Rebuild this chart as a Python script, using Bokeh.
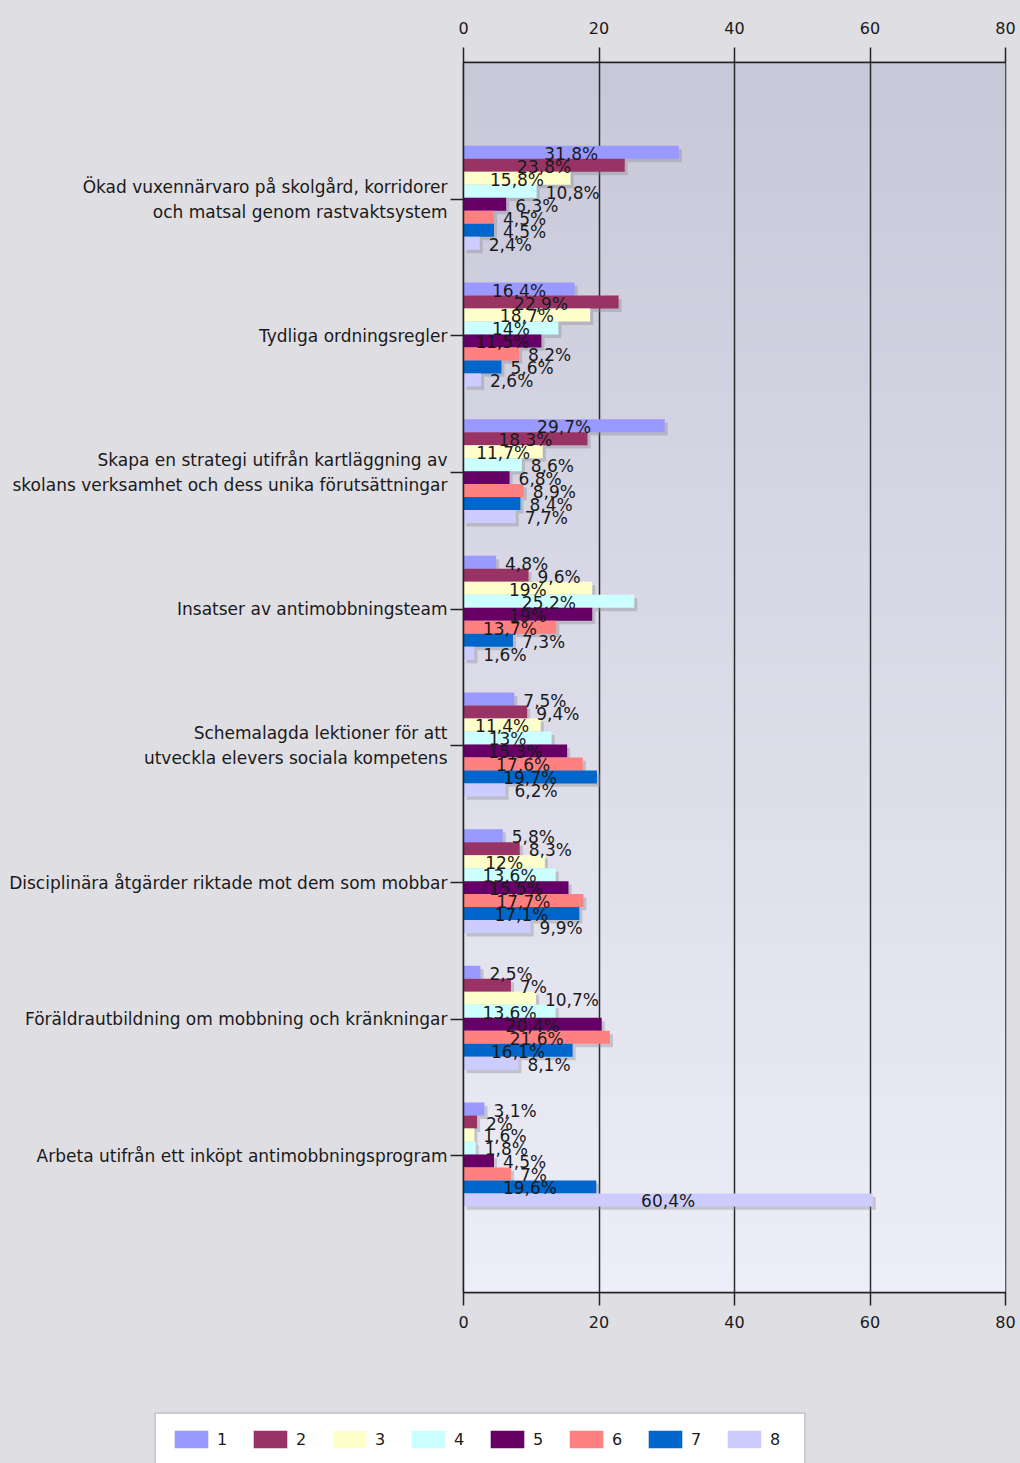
import numpy as np
from bokeh.plotting import figure
from bokeh.models import (Range1d, LinearAxis, FixedTicker, Legend, LegendItem,
                          ColumnDataSource)
from bokeh.core.properties import value
from bokeh.embed import file_html
from bokeh.resources import INLINE

# ---------------- data ----------------
categories = [
    "Ökad vuxennärvaro på skolgård, korridorer\noch matsal genom rastvaktsystem",
    "Tydliga ordningsregler",
    "Skapa en strategi utifrån kartläggning av\nskolans verksamhet och dess unika förutsättningar",
    "Insatser av antimobbningsteam",
    "Schemalagda lektioner för att\nutveckla elevers sociala kompetens",
    "Disciplinära åtgärder riktade mot dem som mobbar",
    "Föräldrautbildning om mobbning och kränkningar",
    "Arbeta utifrån ett inköpt antimobbningsprogram",
]
series_names = ["1", "2", "3", "4", "5", "6", "7", "8"]
s1 = [31.8, 16.4, 29.7, 4.8, 7.5, 5.8, 2.5, 3.1]
s2 = [23.8, 22.9, 18.3, 9.6, 9.4, 8.3, 7.0, 2.0]
s3 = [15.8, 18.7, 11.7, 19.0, 11.4, 12.0, 10.7, 1.6]
s4 = [10.8, 14.0, 8.6, 25.2, 13.0, 13.6, 13.6, 1.8]
s5 = [6.3, 11.5, 6.8, 19.0, 15.3, 15.5, 20.4, 4.5]
s6 = [4.5, 8.2, 8.9, 13.7, 17.6, 17.7, 21.6, 7.0]
s7 = [4.5, 5.6, 8.4, 7.3, 19.7, 17.1, 16.1, 19.6]
s8 = [2.4, 2.6, 7.7, 1.6, 6.2, 9.9, 8.1, 60.4]
x_ticks = [0, 20, 40, 60, 80]

series = [s1, s2, s3, s4, s5, s6, s7, s8]
colors = ["#9999FF", "#993366", "#FFFFCC", "#CCFFFF",
          "#660066", "#FF8080", "#0066CC", "#CCCCFF"]

FONT = "DejaVu Sans"
BG = "#dfdee3"
TXT = "#1a1a1a"

# ---------------- main figure ----------------
p = figure(width=1020, height=1412,
           x_range=Range1d(0, 80), y_range=Range1d(8, -1),
           output_backend="svg", toolbar_location=None,
           x_axis_location="above",
           min_border_left=463, min_border_right=15,
           min_border_top=62, min_border_bottom=120)
p.border_fill_color = BG
p.outline_line_color = "#2a2a2a"
p.outline_line_width = 1.5

# gradient background of plot area
n = 256
t = np.linspace(0, 1, n)
top_c = np.array([0xc8, 0xc8, 0xd9], dtype=float)
bot_c = np.array([0xee, 0xee, 0xf8], dtype=float)
cols = (top_c[None, :] * (1 - t[:, None]) + bot_c[None, :] * t[:, None]).astype(np.uint8)
img = np.empty((n, 1), dtype=np.uint32)
view = img.view(dtype=np.uint8).reshape((n, 1, 4))
view[:, 0, 0] = cols[:, 0]
view[:, 0, 1] = cols[:, 1]
view[:, 0, 2] = cols[:, 2]
view[:, 0, 3] = 255
p.image_rgba(image=[img], x=0, y=-1, dw=80, dh=9, level="image")

# grid
p.xgrid.ticker = FixedTicker(ticks=x_ticks)
p.xgrid.grid_line_color = "#2a2a2a"
p.xgrid.grid_line_width = 1.5
p.ygrid.visible = False

# bars
nser = len(series)
bh = 0.095
sh_dx = 0.45
sh_dy = 0.025
idx = np.arange(len(categories))
offsets = [(j - (nser - 1) / 2) * bh - 0.01 for j in range(nser)]

for j, vals in enumerate(series):
    ys = idx + offsets[j]
    p.hbar(y=ys + sh_dy, left=sh_dx, right=np.array(vals) + sh_dx, height=bh,
           fill_color="#8c8c96", fill_alpha=0.4, line_color=None)

for j, vals in enumerate(series):
    ys = idx + offsets[j]
    p.hbar(y=ys, left=0, right=vals, height=bh,
           fill_color=colors[j], line_color=None)

# value labels
def fmt(v):
    return ("%g" % v).replace(".", ",") + "%"

inside = dict(x=[], y=[], text=[])
outside = dict(x=[], y=[], text=[])
threshold = 11
for j, vals in enumerate(series):
    for i, v in enumerate(vals):
        y = i + offsets[j]
        if v >= threshold:
            inside["x"].append(v / 2)
            inside["y"].append(y)
            inside["text"].append(fmt(v))
        else:
            outside["x"].append(v)
            outside["y"].append(y)
            outside["text"].append(fmt(v))

p.text(x="x", y="y", text="text", source=ColumnDataSource(inside),
       text_align="center", text_baseline="middle", y_offset=1.5,
       text_font=value(FONT), text_font_size="17px", text_color=TXT)
p.text(x="x", y="y", text="text", source=ColumnDataSource(outside),
       text_align="left", text_baseline="middle", x_offset=9, y_offset=1.5,
       text_font=value(FONT), text_font_size="17px", text_color=TXT)

# axes
def style_x(ax, tick_out, standoff):
    ax.ticker = FixedTicker(ticks=x_ticks)
    ax.major_tick_out = tick_out
    ax.major_tick_in = 0
    ax.minor_tick_line_color = None
    ax.axis_line_color = "#222222"
    ax.axis_line_width = 1.5
    ax.major_tick_line_color = "#222222"
    ax.major_tick_line_width = 1.5
    ax.major_label_text_font = FONT
    ax.major_label_text_font_size = "16px"
    ax.major_label_text_color = TXT
    ax.major_label_standoff = standoff

style_x(p.xaxis[0], 15, 14)
bottom_axis = LinearAxis()
style_x(bottom_axis, 13, 10)
p.add_layout(bottom_axis, "below")

ya = p.yaxis[0]
ya.ticker = FixedTicker(ticks=list(range(len(categories))))
ya.major_label_overrides = {i: c for i, c in enumerate(categories)}
ya.major_tick_out = 13
ya.major_tick_in = 0
ya.minor_tick_line_color = None
ya.axis_line_color = "#222222"
ya.axis_line_width = 1.5
ya.major_tick_line_color = "#222222"
ya.major_tick_line_width = 1.5
ya.major_label_standoff = 3
ya.major_label_text_font = FONT
ya.major_label_text_font_size = "17px"
ya.major_label_text_color = TXT
ya.major_label_text_line_height = 1.25

# ---------------- legend strip (separate root) ----------------
lg = figure(width=1020, height=51, x_range=Range1d(0, 1), y_range=Range1d(100, 101),
            output_backend="svg", toolbar_location=None,
            min_border_left=0, min_border_right=0, min_border_top=0,
            min_border_bottom=0)
lg.axis.visible = False
lg.grid.visible = False
lg.outline_line_color = None
lg.background_fill_color = BG
lg.border_fill_color = BG

leg_renderers = []
for j, vals in enumerate(series):
    r = lg.hbar(y=idx + offsets[j], left=0, right=vals, height=bh,
                fill_color=colors[j], line_color=None)
    leg_renderers.append(r)

legend = Legend(items=[LegendItem(label=series_names[j], renderers=[leg_renderers[j]])
                       for j in range(nser)],
                orientation="horizontal", location=(154, -3))
legend.background_fill_color = "white"
legend.background_fill_alpha = 1
legend.border_line_color = "#9a9a9a"
legend.border_line_width = 2
legend.glyph_width = 42
legend.glyph_height = 22
legend.label_text_font = FONT
legend.label_text_font_size = "16px"
legend.label_text_color = TXT
legend.label_standoff = 5
legend.spacing = 12
legend.padding = 14
lg.add_layout(legend)

html = file_html([p, lg], INLINE)
html = html.replace("</head>", "<style>body{background:%s;}</style></head>" % BG, 1)
open("out.html", "w").write(html)
